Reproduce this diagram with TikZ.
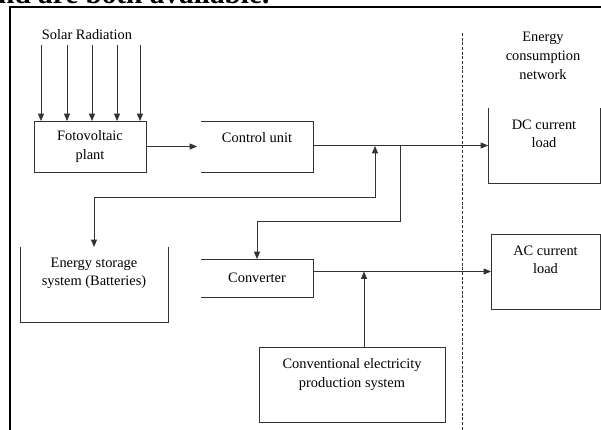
\documentclass[tikz,border=0pt]{standalone}
\usepackage{fontspec}
\setmainfont{Liberation Serif}
\usetikzlibrary{positioning,arrows.meta}
\tikzset{
  blk/.style={inner sep=0pt, outer sep=0pt},
  lbl/.style={inner sep=0pt, align=center, font=\fontsize{12.3}{16}\selectfont},
  wire/.style={line width=0.6pt, draw=black!80},
  arr/.style={wire, ->},
}

\begin{document}
\begin{tikzpicture}[x=0.03cm, y=-0.03cm, >={Triangle[length=2.2mm,width=1.8mm]}]
		\useasboundingbox (0,0) rectangle (601,430);
		\clip (0,0) rectangle (601,430);
		
		% cut-off page text above the figure
		\node[anchor=base west, inner sep=0pt, font=\fontsize{25}{28}\selectfont\bfseries] (cap) at (-2,4) {nd are both available.};
		
		% frame and network border
		\draw[line width=0.9pt] (10,430) -- (10,7) -- (601,7);
		\draw[wire, dash pattern=on 2.5pt off 1.5pt] (462,33) -- (462,430);
		
		\node[lbl] (sun) at (87,35) {Solar Radiation};
		\node[lbl] (net) at (543,56) {Energy\\consumption\\network};
		
		% blocks
		\node[blk, lbl, draw=black!80, line width=0.6pt, minimum width=3.36cm, minimum height=1.53cm] (pv) at (90,146.5) {Fotovoltaic\\plant};
		
		\node[blk, minimum width=3.36cm, minimum height=1.53cm] (ctrl) at (257,146.5) {};
		\node[lbl, below=0.34cm of ctrl.north] (ctrltxt) {Control unit};
		\draw[wire] (ctrl.north west) -- (ctrl.north east) -- (ctrl.south east) -- (ctrl.south west);
		
		\node[blk, minimum width=3.36cm, minimum height=2.25cm] (dc) at (544,145.5) {};
		\node[lbl, below=0.34cm of dc.north] (dctxt) {DC current\\load};
		\draw[wire] (dc.north west) -- (dc.south west) -- (dc.south east) -- (dc.north east);
		
		\node[blk, minimum width=4.44cm, minimum height=2.25cm] (store) at (94,284.5) {};
		\node[lbl, below=0.31cm of store.north] (storetxt) {Energy storage\\system (Batteries)};
		\draw[wire] (store.north west) -- (store.south west) -- (store.south east) -- (store.north east);
		
		\node[blk, lbl, minimum width=3.36cm, minimum height=1.14cm] (conv) at (257,278) {Converter};
		\draw[wire] (conv.north west) -- (conv.north east) -- (conv.south east) -- (conv.south west);
		
		\node[blk, draw=black!80, line width=0.6pt, minimum width=3.27cm, minimum height=2.25cm] (ac) at (545.5,271.5) {};
		\node[lbl, below=0.34cm of ac.north] (actxt) {AC current\\load};
		
		\node[blk, draw=black!80, line width=0.6pt, minimum width=5.58cm, minimum height=2.25cm] (grid) at (352,384.5) {};
		\node[lbl, below=0.34cm of grid.north] (gridtxt) {Conventional electricity\\production system};
		
		% connectors
		\foreach \x in {41,67,92,117,140}
			\draw[arr, shorten <=0.15cm] (\x,0 |- sun.south) -- (\x,0 |- pv.north);
		
		\draw[arr, shorten >=0.12cm] (pv) -- (ctrl.west);
		\draw[arr] (ctrl.east |- dc.west) -- (dc.west);
		
		\coordinate (j1) at (375,146);
		\coordinate (sb) at (375,197);
		\draw[wire, <->] (store.north) |- (sb) -- (j1);
		
		\coordinate (j2) at (400,146);
		\coordinate (cb) at (400,221);
		\draw[arr] (j2) -- (cb) -| (conv.north);
		
		\draw[arr] (conv.east |- ac.west) -- (ac.west);
		\coordinate (j3) at (364,271.5);
		\draw[arr] (grid.north -| j3) -- (j3);
	\end{tikzpicture}
\end{document}
